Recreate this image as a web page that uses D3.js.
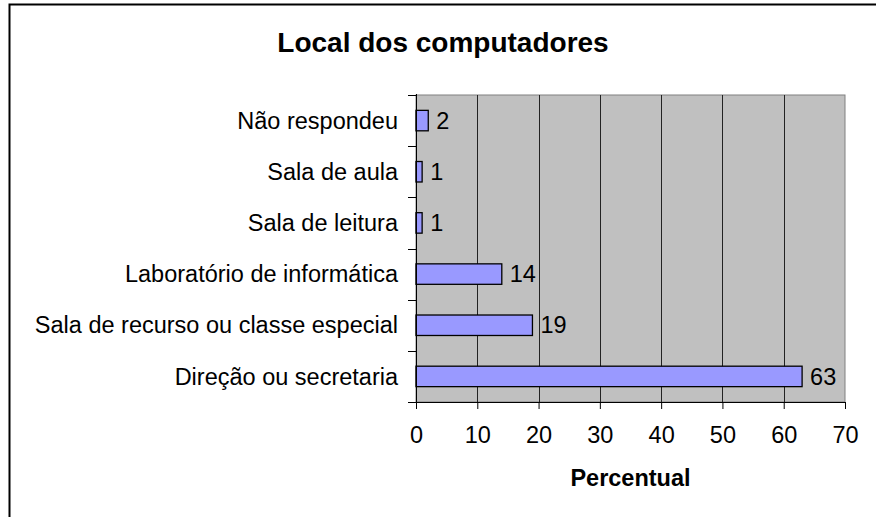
<!DOCTYPE html>
<html>
<head>
<meta charset="utf-8">
<script src="https://cdn.jsdelivr.net/npm/d3@7"></script>
<style>
  html, body { margin: 0; padding: 0; background: #fff; }
  svg { display: block; font-family: "Liberation Sans", Arial, sans-serif; }
</style>
</head>
<body>
<svg id="chart" width="876" height="517"></svg>
<script>
const title = "Local dos computadores";
const xAxisTitle = "Percentual";
const categories = [
  "Não respondeu",
  "Sala de aula",
  "Sala de leitura",
  "Laboratório de informática",
  "Sala de recurso ou classe especial",
  "Direção ou secretaria"
];
const values = [2, 1, 1, 14, 19, 63];
const xTicks = [0, 10, 20, 30, 40, 50, 60, 70];

const svg = d3.select("#chart");
const W = 876, H = 517;
const plot = { left: 416, right: 845, top: 95, bottom: 402 };

// outer chart border (extends past right/bottom edges)
svg.append("rect")
  .attr("x", 9.5).attr("y", 4.5)
  .attr("width", W + 20).attr("height", H + 20)
  .attr("fill", "#fff").attr("stroke", "#000").attr("stroke-width", 2);

const x = d3.scaleLinear().domain([0, 70]).range([plot.left, plot.right]);
const y = d3.scaleBand().domain(categories).range([plot.top, plot.bottom]).paddingInner(0.6).paddingOuter(0.3);

// plot background
svg.append("rect")
  .attr("x", plot.left).attr("y", plot.top)
  .attr("width", plot.right - plot.left).attr("height", plot.bottom - plot.top)
  .attr("fill", "#c0c0c0").attr("stroke", "#808080").attr("stroke-width", 1);

// gridlines
svg.append("g").selectAll("line")
  .data(xTicks.filter(t => t > 0 && t < 70))
  .join("line")
  .attr("x1", d => Math.round(x(d)) + 0.5).attr("x2", d => Math.round(x(d)) + 0.5)
  .attr("y1", plot.top).attr("y2", plot.bottom)
  .attr("stroke", "#222").attr("stroke-width", 1);

// bars
svg.append("g").selectAll("rect")
  .data(values)
  .join("rect")
  .attr("x", x(0))
  .attr("y", (d, i) => y(categories[i]))
  .attr("width", d => x(d) - x(0))
  .attr("height", y.bandwidth())
  .attr("fill", "#9999ff")
  .attr("stroke", "#000")
  .attr("stroke-width", 1.3);

// value labels
svg.append("g").selectAll("text")
  .data(values)
  .join("text")
  .attr("x", d => x(d) + 8)
  .attr("y", (d, i) => y(categories[i]) + y.bandwidth() / 2)
  .attr("dy", "0.35em")
  .attr("font-size", "23.5px")
  .attr("fill", "#000")
  .text(d => d);

// x axis
const xAxis = d3.axisBottom(x).tickValues(xTicks).tickSize(7).tickPadding(17).tickFormat(d3.format("d"));
const gx = svg.append("g").attr("transform", `translate(0,${plot.bottom})`).call(xAxis);
gx.select(".domain").attr("stroke", "#000").attr("d", `M${plot.left - 8},0.5H${plot.right}`);
gx.selectAll(".tick line").attr("stroke", "#000");
gx.selectAll(".tick text").attr("font-size", "23.5px").attr("font-family", "Liberation Sans, Arial, sans-serif").attr("fill", "#000");

// y axis: ticks at band boundaries
const step = (plot.bottom - plot.top) / categories.length;
const gy = svg.append("g");
gy.append("line")
  .attr("x1", plot.left + 0.5).attr("x2", plot.left + 0.5)
  .attr("y1", plot.top - 1).attr("y2", plot.bottom + 1)
  .attr("stroke", "#000");
gy.selectAll("line.tk")
  .data(d3.range(categories.length + 1))
  .join("line")
  .attr("class", "tk")
  .attr("x1", plot.left - 8).attr("x2", plot.left)
  .attr("y1", i => Math.round(plot.top + i * step) + 0.5)
  .attr("y2", i => Math.round(plot.top + i * step) + 0.5)
  .attr("stroke", "#000");
gy.selectAll("text")
  .data(categories)
  .join("text")
  .attr("x", 398)
  .attr("y", d => y(d) + y.bandwidth() / 2)
  .attr("dy", "0.35em")
  .attr("text-anchor", "end")
  .attr("font-size", "23.5px")
  .attr("fill", "#000")
  .text(d => d);

// title
svg.append("text")
  .attr("x", 443).attr("y", 52)
  .attr("text-anchor", "middle")
  .attr("font-size", "28px")
  .attr("font-weight", "bold")
  .attr("fill", "#000")
  .text(title);

// x axis title
svg.append("text")
  .attr("x", (plot.left + plot.right) / 2).attr("y", 486)
  .attr("text-anchor", "middle")
  .attr("font-size", "23.5px")
  .attr("font-weight", "bold")
  .attr("fill", "#000")
  .text(xAxisTitle);
</script>
</body>
</html>
